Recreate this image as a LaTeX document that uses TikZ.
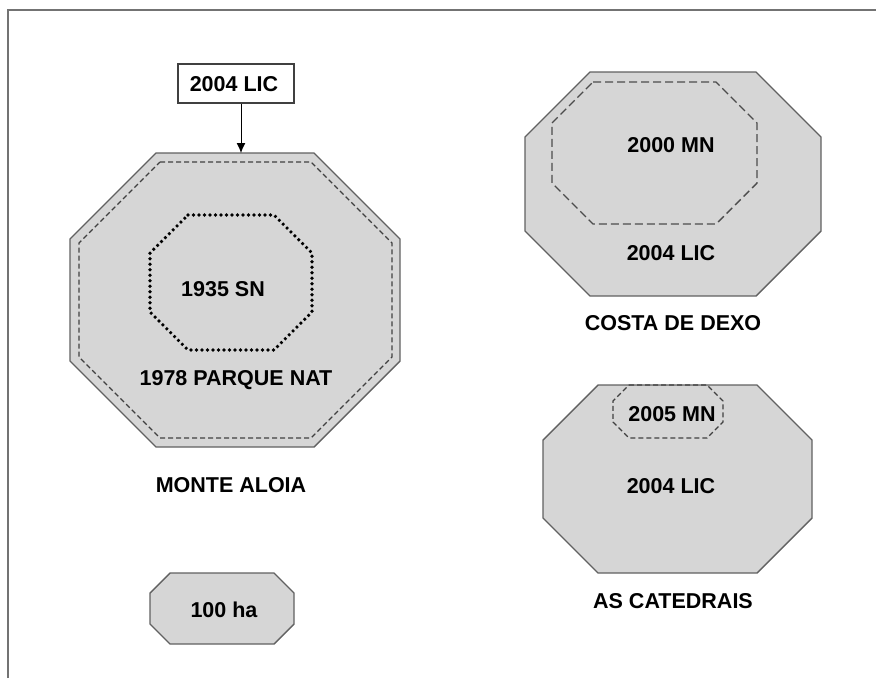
\documentclass[tikz,border=0pt]{standalone}
\usepackage{fontspec}
\setmainfont{Liberation Sans}
\usetikzlibrary{arrows.meta,positioning}

\definecolor{areafill}{gray}{0.84}
\definecolor{areaedge}{gray}{0.38}
\definecolor{frameedge}{gray}{0.45}

% octagon from (x1,y1) to (x2,y2) with corner cut c
\newcommand{\octagon}[6][]{%
  \draw[#1] ({#2+#6},#3) -- ({#4-#6},#3) -- (#4,{#3+#6}) -- (#4,{#5-#6})
    -- ({#4-#6},#5) -- ({#2+#6},#5) -- (#2,{#5-#6}) -- (#2,{#3+#6}) -- cycle;}

\tikzset{
  area/.style={draw=areaedge,fill=areafill,line width=1.4pt},
  limit/.style={draw=black!75,dash pattern=on 5pt off 3pt,line width=1.2pt},
  widelimit/.style={draw=black!70,dash pattern=on 8pt off 4pt,line width=1.4pt},
  dotlimit/.style={draw=black,dash pattern=on 0pt off 5.5pt,line cap=round,line width=3.6pt},
  lbl/.style={font=\fontsize{21.5}{26}\selectfont\bfseries,text height=15.5pt,text depth=0pt,inner sep=0pt}
}

\begin{document}
\begin{tikzpicture}[x=1pt,y=-1pt,>=Latex]
\useasboundingbox[fill=white] (0,0) rectangle (876,678);
\draw[frameedge,line width=1.4pt] (8,678) -- (8,10) -- (876,10);

% Monte Aloia
\octagon[area]{70}{153}{400}{447}{86}
\octagon[limit]{79}{162}{392}{438}{81}
\octagon[dotlimit]{150}{215}{312}{350}{38}
\node[lbl] (sn) at (223,289) {1935 SN};
\node[lbl] (pn) at (236,378) {1978 PARQUE NAT};
\node[lbl] (ma) at (231,485) {MONTE ALOIA};
\node[draw=black!75,line width=1.1pt,minimum width=116pt,minimum height=39pt,inner sep=0pt] (licbox) at (236,83.5) {};
\node[lbl] (lic) at (234,84) {2004 LIC};
\coordinate (matop) at (241,153);
\draw[line width=1pt,-{Latex[length=10pt,width=9pt]}] (licbox.south -| matop) -- (matop);

% scale
\octagon[area]{150}{573}{294}{644}{20}
\node[lbl] (ha) at (224,610) {100 ha};

% Costa de Dexo
\octagon[area]{525}{72}{821}{296}{65}
\octagon[widelimit]{552}{82}{757}{224}{41}
\node[lbl] (cmn) at (671,145) {2000 MN};
\node[lbl] (clic) at (671,253) {2004 LIC};
\node[lbl] (cd) at (673,323) {COSTA DE DEXO};

% As Catedrais
\octagon[area]{543}{385}{812}{573}{55}
\octagon[limit]{613}{385}{723}{438}{16}
\node[lbl] (amn) at (672,414) {2005 MN};
\node[lbl] (alic) at (671,486) {2004 LIC};
\node[lbl] (ac) at (673,601) {AS CATEDRAIS};
\end{tikzpicture}
\end{document}
